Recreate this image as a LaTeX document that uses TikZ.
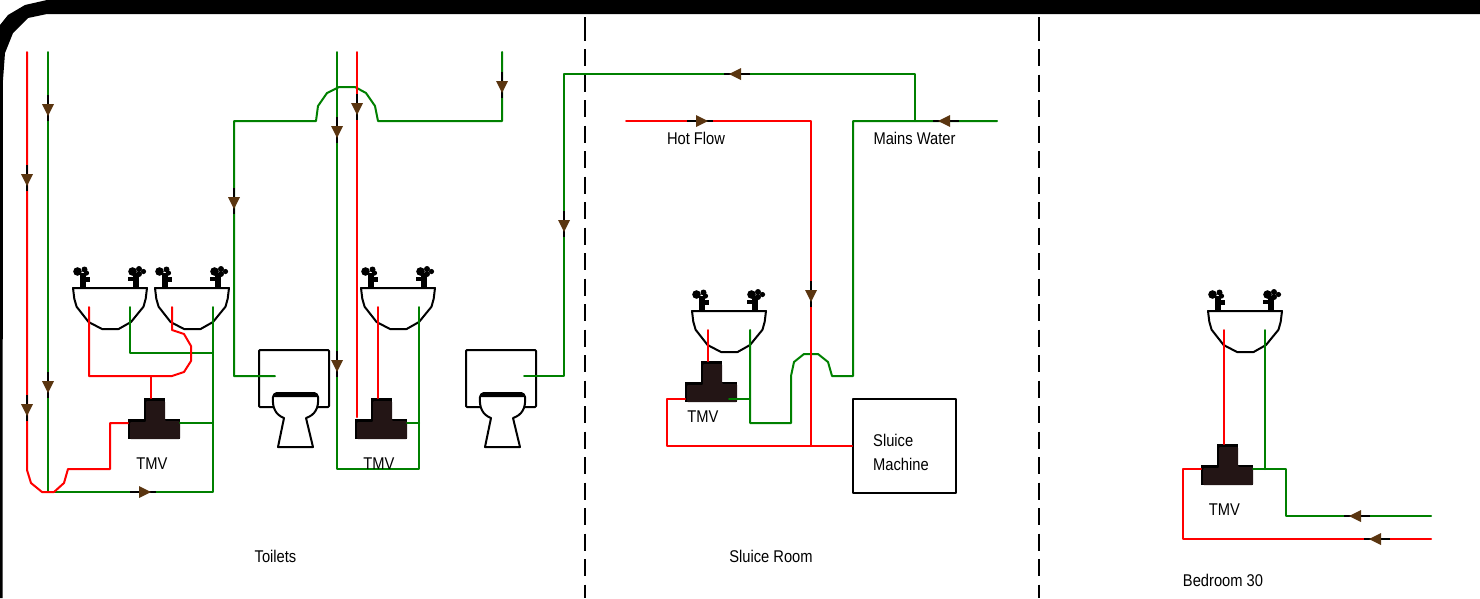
\documentclass[tikz,border=0pt]{standalone}
\usepackage{fontspec}
\setmainfont[FakeStretch=0.865]{Liberation Sans}
\usepackage[usenames]{xcolor}
\definecolor{hotred}{RGB}{255,0,0}
\definecolor{coldgreen}{RGB}{0,128,0}
\definecolor{valvedark}{RGB}{35,21,21}
\definecolor{flowbrown}{RGB}{90,53,16}
\tikzset{
  hotpipe/.style={draw=hotred,line width=2pt},
  coldpipe/.style={draw=coldgreen,line width=2pt},
  fitting/.style={draw=black,line width=2pt},
  partition/.style={draw=black,line width=2pt,line cap=butt,dash pattern=on 17pt off 8.5pt},
  tag/.style={inner sep=0pt,font=\fontsize{17}{24}\selectfont},
  pics/washbasin/.style={code={
    \draw[fitting,fill=white] (0,0)-- (74,0)-- (72.7,10.7)-- (70.5,18.7)-- (58,34)-- (45.6,41)-- (29,41)-- (15.6,34)-- (3.6,18.7)-- (1.3,10.7)-- cycle;
    \fill (7,-15) rectangle (13,0);
    \fill (13,-11) rectangle (17,-6);
    \fill (4.5,-16.5) circle (4.3);
    \fill (11.5,-18.5) circle (3);
    \fill (13.5,-15) circle (2.6);
    \fill (60,-15) rectangle (66,0);
    \fill (55,-11) rectangle (60,-7);
    \fill (59.5,-16.5) circle (4.3);
    \fill (66,-19) circle (3);
    \fill (70.5,-16.5) circle (2.6);
    \fill (66,-14) circle (3);
  }},
  pics/mixvalve/.style={code={
    \fill (-10,0) rectangle (11,21);
    \fill (-26,21) rectangle (26,41);
    \fill[valvedark,rounded corners=1pt] (-8,3) -- (11,3) -- (11,23) -- (26,23) -- (26,41) -- (-24,41) -- (-24,24) -- (-8,24) -- cycle;
  }},
  pics/wcpan/.style={code={
    \draw[fitting,rounded corners=1pt] (0,0) rectangle (70,57);
    \draw[fitting,fill=white] (14,47) .. controls (14,45) and (16,43) .. (18,43)-- (55,43) .. controls (57,43) and (59,45) .. (59,47) .. controls (60,58) and (56,65) .. (47,68)-- (54,97)-- (19,97)-- (25,68) .. controls (17,65) and (13,58) .. (14,47) -- cycle;
    \fill (14,47) .. controls (14,45) and (16,42) .. (18,42)-- (55,42) .. controls (57,42) and (59,45) .. (59,47)-- cycle;
  }},
  pics/flowmark/.style={code={
    \draw[black,line width=2pt,line cap=butt] (-13,0)-- (13,0);
    \fill[flowbrown] (-4,-6)-- (8,0)-- (-4,6)-- cycle;
  }}
}
\begin{document}
\begin{tikzpicture}[line cap=round,line join=round,x=1pt,y=-1pt]
\useasboundingbox (0,0) rectangle (1480,598);
% outer wall
\fill (1480,0)-- (1480,14)-- (47,14)-- (28,18)-- (13,33)-- (5,53)-- (3,80)-- (2.5,598)-- (0,598)-- (0,25)-- (8,15)-- (25,5)-- (47,0)-- cycle;
\draw[partition] (585,23.5)-- (585,598);
\draw[partition] (1039,23.5)-- (1039,598);
\draw[black,line width=2pt,line cap=butt] (585,17)-- (585,24);
\draw[black,line width=2pt,line cap=butt] (1039,17)-- (1039,24);
% fittings
\pic at (73,288) {washbasin};
\pic at (155,288) {washbasin};
\pic at (361,288) {washbasin};
\pic at (692,311) {washbasin};
\pic at (1208,311) {washbasin};
\pic at (259,350) {wcpan};
\pic at (466,350) {wcpan};
\draw[fitting] (852.5,399) rectangle (956,493);
\pic at (154,398) {mixvalve};
\pic at (381,398) {mixvalve};
\pic at (711,361) {mixvalve};
\pic at (1227,444) {mixvalve};
% cold
\draw[coldpipe] (48,52)-- (48,492)-- (213,492)-- (213,307);
\draw[coldpipe] (130,307)-- (130,353)-- (213,353);
\draw[coldpipe] (180,423)-- (213,423);
\draw[coldpipe] (275,376)-- (234,376)-- (234,121)-- (316,121)-- (318,106)-- (327,93)-- (339,87)-- (355,87)-- (366,93)-- (375,106)-- (378,121)-- (502,121)-- (502,52);
\draw[coldpipe] (337,52)-- (337,469)-- (419,469)-- (419,307);
\draw[coldpipe] (407,423)-- (419,423);
\draw[coldpipe] (524,376)-- (564,376)-- (564,74)-- (915,74)-- (915,121);
\draw[coldpipe] (997,121)-- (853,121)-- (853,376)-- (832,376)-- (828,362)-- (818,354)-- (804,354)-- (794,362)-- (791,376)-- (791,423)-- (750,423)-- (750,330);
\draw[coldpipe] (729,399)-- (750,399);
\draw[coldpipe] (1265,330)-- (1265,469);
\draw[coldpipe] (1253,469)-- (1286,469)-- (1286,516)-- (1431,516);
% hot
\draw[hotpipe] (27,52)-- (27,470)-- (31,483)-- (42,492)-- (54,492)-- (64,483)-- (68,469)-- (110,469)-- (110,423)-- (128,423);
\draw[hotpipe] (89,307)-- (89,376)-- (172,376)-- (184,372)-- (191,361)-- (191,346)-- (184,334)-- (172,330)-- (172,307);
\draw[hotpipe] (151,376)-- (151,398);
\draw[hotpipe] (357,52)-- (357,417);
\draw[hotpipe] (378,307)-- (378,398);
\draw[hotpipe] (626,121)-- (811,121)-- (811,446);
\draw[hotpipe] (852,446)-- (667,446)-- (667,399)-- (685,399);
\draw[hotpipe] (708,330)-- (708,361);
\draw[hotpipe] (1224,330)-- (1224,444);
\draw[hotpipe] (1201,469)-- (1183,469)-- (1183,539)-- (1431,539);
% flow marks
\foreach \px/\py in {48/108,27/178,48/385,27/408,234/201,337/130,357/107,337/364,502/85,564/224,811/294}
  \pic[rotate=-90] at (\px,\py) {flowmark};
\foreach \px/\py in {737/74,946/121,1357/516,1377/539}
  \pic[rotate=180] at (\px,\py) {flowmark};
\foreach \px/\py in {143/492,700/121}
  \pic at (\px,\py) {flowmark};
% labels
\node[tag] (tmva) at (152,464) {TMV};
\node[tag] (tmvb) at (379,464) {TMV};
\node[tag] (tmvc) at (703,417) {TMV};
\node[tag] (tmvd) at (1224.5,510) {TMV};
\node[tag] (hotflow) at (696,138) {Hot Flow};
\node[tag] (mains) at (914.5,138) {Mains Water};
\node[tag,anchor=west,align=left] (sluicebox) at (873,452) {Sluice\\Machine};
\node[tag] (toilets) at (275.5,556) {Toilets};
\node[tag] (sluiceroom) at (771,556) {Sluice Room};
\node[tag] (bedroom) at (1223,580) {Bedroom 30};
\end{tikzpicture}
\end{document}
